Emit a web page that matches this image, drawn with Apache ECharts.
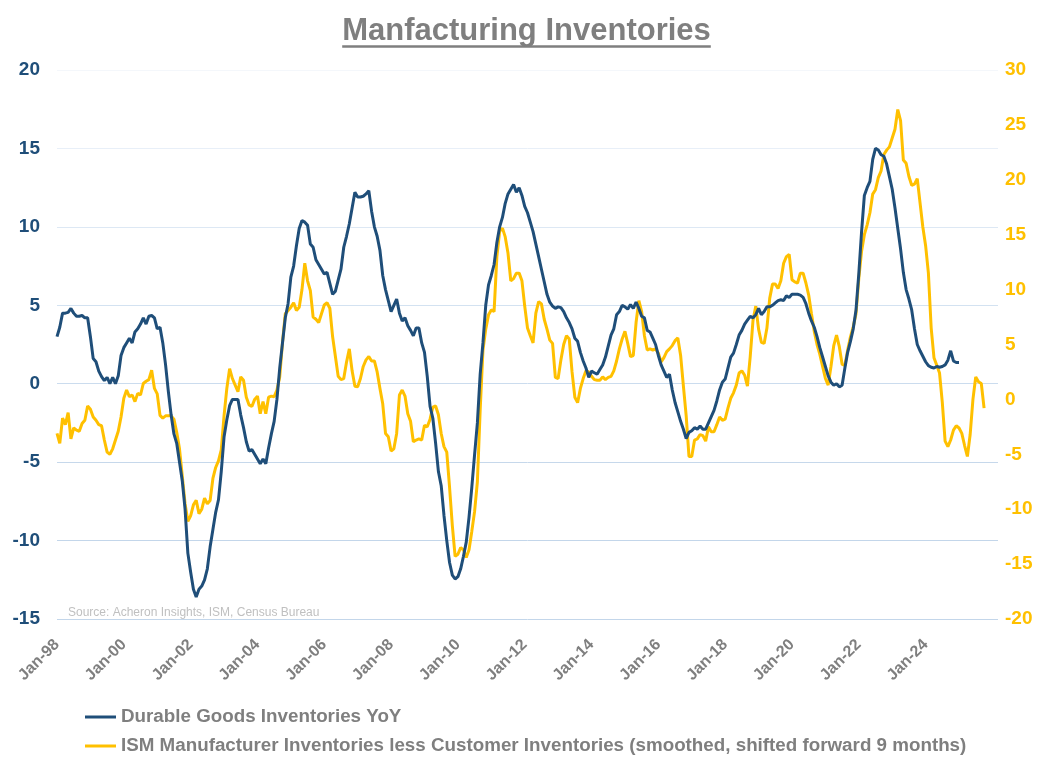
<!DOCTYPE html>
<html><head><meta charset="utf-8">
<script src="https://cdn.jsdelivr.net/npm/echarts@6/dist/echarts.min.js"></script>
<style>html,body{margin:0;padding:0;background:#fff}#c{width:1053px;height:769px}</style>
</head><body><div id="c"></div>
<script>
// ---- categories: monthly, Jan-98 .. Mar-26 ----
const monthNames = ['Jan','Feb','Mar','Apr','May','Jun','Jul','Aug','Sep','Oct','Nov','Dec'];
const firstYear = 1998, lastYear = 2026, lastYearMonths = 3;
const categories = [];
for (let y = firstYear; y <= lastYear; y++) {
  const n = (y === lastYear) ? lastYearMonths : 12;
  for (let mi = 0; mi < n; mi++) categories.push(monthNames[mi] + '-' + String(y % 100).padStart(2, '0'));
}
const lastLabelIndex = 312; // Jan-24 is the last shown tick label

// ---- tick settings ----
const leftTicks = { min: -15, max: 20, interval: 5 };
const rightTicks = { min: -20, max: 30, interval: 5 };

// ---- Durable Goods Inventories YoY (left axis), Jan-98 .. Jan-25 ----
const durableGoods = [
3.0,3.6,4.5,4.5,4.55,4.8,4.5,4.3,4.3,4.35,4.2,4.2,
3.0,1.6,1.4,0.8,0.45,0.2,0.4,0.0,0.4,0.0,0.5,1.8,
2.3,2.6,2.9,2.6,3.3,3.5,3.8,4.2,3.8,4.3,4.35,4.2,
3.5,3.6,2.6,1.2,-0.5,-2.0,-3.2,-3.8,-5.0,-6.2,-8.0,-10.8,
-12.0,-13.1,-13.6,-13.1,-12.9,-12.5,-11.8,-10.4,-9.3,-8.2,-7.4,-5.6,
-3.4,-2.3,-1.4,-1.0,-1.0,-1.0,-2.0,-2.8,-3.7,-4.3,-4.2,-4.5,
-4.8,-5.1,-4.8,-5.1,-4.1,-3.2,-2.4,-1.0,1.0,2.6,4.2,5.1,
6.8,7.5,8.8,9.9,10.4,10.3,10.1,8.9,8.7,7.9,7.6,7.3,
7.0,7.1,6.4,5.7,5.9,6.6,7.3,8.7,9.4,10.2,11.2,12.2,
11.9,11.9,11.95,12.1,12.3,11.0,10.0,9.4,8.5,6.9,6.0,5.3,
4.6,5.0,5.4,4.5,4.0,4.2,3.7,3.4,3.05,3.55,3.55,2.6,
2.0,0.45,-1.45,-2.2,-3.8,-5.6,-6.5,-8.4,-10.0,-11.4,-12.2,-12.45,
-12.3,-11.8,-11.0,-10.1,-8.5,-6.6,-4.5,-2.5,0.6,2.6,5.0,6.3,
6.9,7.6,9.0,10.0,10.6,11.5,12.1,12.4,12.7,12.2,12.5,12.0,
11.3,10.9,10.3,9.7,8.9,8.1,7.3,6.5,5.7,5.2,4.95,4.8,
4.9,4.85,4.6,4.2,3.9,3.5,2.9,2.7,2.0,1.45,1.0,0.4,
0.8,0.7,0.6,0.9,1.2,1.7,2.4,3.1,3.5,4.4,4.6,5.0,
4.9,4.75,5.05,4.8,5.2,4.8,4.3,4.2,3.4,3.3,2.9,2.5,
1.8,1.2,0.8,0.4,0.6,-0.4,-1.2,-1.8,-2.4,-2.9,-3.5,-3.1,
-3.0,-2.8,-2.9,-2.7,-2.9,-2.9,-2.5,-2.1,-1.7,-1.1,-0.4,0.1,
0.3,1.0,1.7,1.95,2.5,3.1,3.4,3.8,4.05,4.3,4.2,4.4,
4.8,4.4,4.6,4.9,4.9,5.0,5.15,5.3,5.35,5.3,5.6,5.5,
5.7,5.7,5.7,5.65,5.5,5.1,4.5,4.0,3.6,3.0,2.3,1.7,
1.1,0.5,0.1,-0.1,0.0,-0.2,-0.1,1.0,2.0,2.7,3.5,4.7,
7.0,9.7,12.0,12.5,12.9,14.3,15.0,14.9,14.6,14.5,14.0,13.2,
12.4,11.2,9.9,8.6,7.1,6.0,5.4,4.7,3.5,2.5,2.1,1.75,
1.4,1.15,1.05,1.0,1.1,1.05,1.1,1.2,1.5,2.1,1.45,1.35,
1.35
];

// ---- ISM Manufacturer Inventories less Customer Inventories (right axis), Jan-98 .. Nov-25 ----
const ismInventories = [
-3.1,-4.0,-1.7,-2.3,-1.2,-3.6,-2.6,-2.8,-2.9,-2.2,-1.9,-0.6,
-0.9,-1.6,-1.9,-2.3,-2.4,-3.7,-4.8,-5.0,-4.5,-3.7,-2.9,-1.6,
0.1,0.85,0.25,0.4,-0.2,0.55,0.4,1.45,1.65,1.8,2.65,1.0,
0.5,-1.45,-1.7,-1.5,-1.5,-1.5,-1.8,-3.0,-4.5,-7.0,-9.5,-11.1,
-10.6,-9.6,-9.2,-10.4,-10.0,-9.0,-9.5,-9.2,-7.2,-6.2,-5.6,-4.6,
-1.5,1.0,2.8,1.9,1.3,0.7,2.05,1.75,0.2,-0.5,-0.65,0.0,
0.3,-1.3,-0.2,-1.3,0.2,0.3,0.25,0.85,2.05,5.2,7.8,8.1,
8.4,8.8,8.1,8.4,10.0,12.4,10.8,9.9,7.5,7.3,7.0,7.8,
8.6,8.8,8.3,5.7,3.9,2.1,1.8,1.9,3.4,4.6,2.6,1.2,
1.15,1.9,3.0,3.6,3.9,3.5,3.5,2.5,1.0,-0.4,-3.1,-3.4,
-4.7,-4.5,-3.1,0.4,0.85,0.3,-1.3,-2.0,-3.85,-3.7,-3.6,-3.7,
-2.35,-2.5,-1.8,-0.7,-0.6,-1.4,-3.1,-4.3,-4.8,-8.0,-11.5,-14.3,
-14.1,-13.5,-13.7,-14.4,-13.7,-12.0,-10.2,-7.5,-1.0,4.5,6.4,7.7,
8.15,8.0,13.0,15.3,15.6,14.8,13.3,10.8,11.0,11.5,11.5,10.8,
8.5,6.5,5.8,5.15,7.85,8.9,8.7,7.3,6.4,5.4,5.1,2.0,
1.9,3.6,5.0,5.8,5.5,2.5,0.2,-0.3,1.0,1.9,2.6,2.5,
2.1,1.8,1.75,1.75,2.05,1.8,2.0,2.1,2.6,3.5,4.6,5.5,
6.2,5.1,3.9,4.0,7.0,9.0,8.0,5.8,4.5,4.6,4.5,4.6,
4.2,3.4,3.8,4.35,4.6,4.9,5.35,5.6,4.0,1.2,-1.5,-5.2,
-5.2,-3.7,-3.6,-3.2,-3.3,-3.8,-2.5,-2.95,-2.95,-2.3,-1.6,-1.9,
-1.8,-0.8,0.1,0.6,1.3,2.4,2.6,2.2,1.2,3.9,7.2,8.5,
6.4,5.2,5.1,6.5,9.2,10.5,10.5,10.1,10.8,12.4,13.0,13.2,
10.9,10.7,10.6,11.5,11.5,10.6,9.5,7.8,6.2,5.0,4.1,3.0,
1.9,1.3,3.0,4.9,5.85,4.8,3.2,3.1,4.5,5.7,6.6,7.8,
11.0,13.5,15.0,15.9,17.0,18.7,19.1,20.2,20.8,22.3,22.7,23.0,
23.8,24.6,26.4,25.4,21.8,21.5,20.3,19.5,19.6,20.1,17.9,15.7,
14.0,11.5,6.5,3.8,3.1,2.4,-0.3,-3.8,-4.3,-3.7,-2.8,-2.4,
-2.6,-3.1,-4.2,-5.2,-3.2,0.0,2.05,1.6,1.45,-0.8
];

const titleText = 'Manfacturing Inventories';
const sourceText = 'Source: Acheron Insights, ISM, Census Bureau';
const seriesNames = ['Durable Goods Inventories YoY',
  'ISM Manufacturer Inventories less Customer Inventories (smoothed, shifted forward 9 months)'];

const FONT = '"Liberation Sans", Arial, sans-serif';
const BLUE = '#1f4e79', YELLOW = '#ffc000', GREY = '#7f7f7f';
const TITLE_SIZE = 31;

const chart = echarts.init(document.getElementById('c'), null, { renderer: 'canvas' });

// measure title width for the underline
const mctx = document.createElement('canvas').getContext('2d');
mctx.font = 'bold ' + TITLE_SIZE + 'px ' + FONT;
const titleW = mctx.measureText(titleText).width;
const cx = 1053 / 2;

chart.setOption({
  animation: false,
  backgroundColor: '#ffffff',
  textStyle: { fontFamily: FONT },
  title: [
    { text: titleText, left: 'center', top: 11,
      textStyle: { fontSize: TITLE_SIZE, fontWeight: 'bold', color: GREY, fontFamily: FONT } },
    { text: sourceText, left: 63, top: 602,
      textStyle: { fontSize: 12, fontWeight: 'normal', color: '#c0c0c0', fontFamily: FONT } }
  ],
  graphic: [
    { type: 'line', shape: { x1: cx - titleW / 2, y1: 46.5, x2: cx + titleW / 2, y2: 46.5 },
      style: { stroke: GREY, lineWidth: 2.5 } }
  ],
  grid: { left: 57, right: 55, top: 70, bottom: 150, containLabel: false },
  legend: {
    orient: 'vertical', left: 80, top: 701, itemGap: 7,
    icon: 'rect', itemWidth: 31, itemHeight: 3,
    textStyle: { fontSize: 18.8, color: GREY, fontWeight: 'bold', fontFamily: FONT, lineHeight: 22 },
    data: seriesNames
  },
  xAxis: {
    type: 'category', data: categories, boundaryGap: false,
    axisLine: { show: false }, axisTick: { show: false },
    splitLine: { show: false },
    axisLabel: {
      rotate: 45, margin: 23, color: GREY, fontSize: 16, fontWeight: 'bold', fontFamily: FONT,
      interval: function (idx) { return idx % 24 === 0 && idx <= lastLabelIndex; }
    }
  },
  yAxis: [
    { type: 'value', min: leftTicks.min, max: leftTicks.max, interval: leftTicks.interval,
      axisLine: { show: false }, axisTick: { show: false },
      axisLabel: { color: BLUE, fontSize: 19, fontWeight: 'bold', margin: 17, fontFamily: FONT },
      splitLine: { show: true, lineStyle: { width: 1,
        color: ['#c3d6ea', '#c3d6ea', '#c6d8eb', '#cbdcee', '#d3e2f1', '#dde8f4', '#e8eff8', '#f4f7fb'] } } },
    { type: 'value', min: rightTicks.min, max: rightTicks.max, interval: rightTicks.interval,
      axisLine: { show: false }, axisTick: { show: false },
      axisLabel: { color: YELLOW, fontSize: 19, fontWeight: 'bold', margin: 7, fontFamily: FONT },
      splitLine: { show: false } }
  ],
  series: [
    { name: seriesNames[0], type: 'line', yAxisIndex: 0, data: durableGoods,
      showSymbol: false, symbol: 'none', lineStyle: { color: BLUE, width: 3 }, itemStyle: { color: BLUE }, z: 3 },
    { name: seriesNames[1], type: 'line', yAxisIndex: 1, data: ismInventories,
      showSymbol: false, symbol: 'none', lineStyle: { color: YELLOW, width: 3 }, itemStyle: { color: YELLOW }, z: 2 }
  ]
});
</script></body></html>
